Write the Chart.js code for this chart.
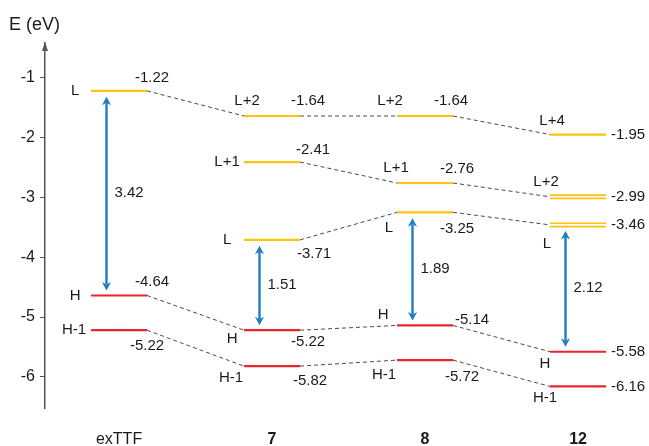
<!DOCTYPE html>
<html>
<head>
<meta charset="utf-8">
<script src="https://cdn.jsdelivr.net/npm/chart.js@4.4.1/dist/chart.umd.min.js"></script>
<style>
  html, body { margin: 0; padding: 0; background: #fff; }
  canvas { display: block; }
</style>
</head>
<body>
<canvas id="chart" width="649" height="446"></canvas>
<script>
// Compounds along the horizontal axis
const categories = ['exTTF', '7', '8', '12'];

// Frontier orbital energies (eV), top to bottom for each compound
const levelsExTTF = [-1.22, -4.64, -5.22];
const levels7 = [-1.64, -2.41, -3.71, -5.22, -5.82];
const levels8 = [-1.64, -2.76, -3.25, -5.14, -5.72];
const levels12 = [-1.95, -2.99, -3.46, -5.58, -6.16];

// Orbital names in the same order
const namesExTTF = ['L', 'H', 'H-1'];
const names7 = ['L+2', 'L+1', 'L', 'H', 'H-1'];
const names8 = ['L+2', 'L+1', 'L', 'H', 'H-1'];
const names12 = ['L+4', 'L+2', 'L', 'H', 'H-1'];

// Doubly degenerate levels of compound 12 (indices into levels12)
const degenerate12 = [1, 2];

// Correlation chains between compounds: [column, level index]
const chains = [
  [[0, 0], [1, 0], [2, 0], [3, 0]],
  [[1, 1], [2, 1], [3, 1]],
  [[1, 2], [2, 2], [3, 2]],
  [[0, 1], [1, 3], [2, 3], [3, 3]],
  [[0, 2], [1, 4], [2, 4], [3, 4]]
];

// HOMO-LUMO gap arrows: [LUMO index, HOMO index] for each compound
const gapPairs = [[0, 1], [2, 3], [2, 3], [2, 3]];

// Energy axis tick values
const yTicks = [-1, -2, -3, -4, -5, -6];

// ---------- layout & style ----------
const columns = [levelsExTTF, levels7, levels8, levels12];
const names = [namesExTTF, names7, names8, names12];

const HALF = 0.183;       // half width of a level bar (category units)
const ARROW_DX = -0.082;  // arrow offset from the bar centre
const YELLOW = '#FFC20E';
const RED = '#E8262B';
const BLUE = '#1F7DC2';
const TEXT = '#1a1a1a';
const AXIS = '#555555';
const FONT = '"Liberation Sans", Arial, Helvetica, sans-serif';

// label anchors: [bar end, dx px, dy px] (text centred there)
const nameOffsets = [
  [['L', -16, 0], ['L', -16, 0], ['L', -17, 0]],
  [['L', 3, -15], ['L', -17, 0], ['L', -17, 0], ['L', -12, 9], ['L', -13, 12]],
  [['L', -7, -15], ['L', -1, -15], ['L', -8, 16], ['L', -14, -11], ['L', -13, 15]],
  [['L', 2, -14], ['L', -4, -15], ['L', -3, 19], ['L', -5, 12], ['L', -5, 11]]
];
const valueOffsets = [
  [['R', 5, -13], ['R', 5, -14], ['R', 0, 16]],
  [['R', 8, -15], ['R', 13, -12], ['R', 14, 14], ['R', 8, 12], ['R', 10, 15]],
  [['R', -2, -15], ['R', 4, -14], ['R', 4, 17], ['R', 19, -6], ['R', 9, 17]],
  [['R', 22, 0], ['R', 22, 0], ['R', 22, 0], ['R', 22, 0], ['R', 22, 0]]
];

Chart.defaults.font.family = FONT;
Chart.defaults.color = TEXT;

// ---------- datasets ----------
const datasets = [];

// dashed correlation lines
chains.forEach(chain => {
  const pts = [];
  for (let k = 0; k < chain.length - 1; k++) {
    const [c0, i0] = chain[k];
    const [c1, i1] = chain[k + 1];
    if (pts.length) pts.push({ x: c0, y: null });
    pts.push({ x: c0 + HALF, y: columns[c0][i0] });
    pts.push({ x: c1 - HALF, y: columns[c1][i1] });
  }
  datasets.push({
    data: pts,
    borderColor: '#4a4a4a',
    borderWidth: 1,
    borderDash: [4, 3],
    pointRadius: 0,
    spanGaps: false,
    order: 3
  });
});

// energy level bars
columns.forEach((lv, c) => {
  lv.forEach((v, i) => {
    const occupied = names[c][i].startsWith('H');
    const deg = c === 3 && degenerate12.includes(i);
    const seg = [{ x: c - HALF, y: v }, { x: c + HALF, y: v }];
    datasets.push({
      data: seg,
      borderColor: occupied ? RED : YELLOW,
      borderWidth: deg ? 5 : 2.2,
      pointRadius: 0,
      order: 2
    });
    if (deg) {
      // thin white core splits the bar into a pair of lines
      datasets.push({
        data: seg.map(p => ({ ...p })),
        borderColor: '#ffffff',
        borderWidth: 1.6,
        pointRadius: 0,
        order: 1
      });
    }
  });
});

// ---------- drawing helpers ----------
function arrowHead(ctx, x, y, dir) {
  // dir = -1 points up, +1 points down; (x, y) is the tip
  const w = 4.6, len = 8.5, notch = 6;
  ctx.beginPath();
  ctx.moveTo(x, y);
  ctx.lineTo(x - w, y - dir * len);
  ctx.lineTo(x, y - dir * notch);
  ctx.lineTo(x + w, y - dir * len);
  ctx.closePath();
  ctx.fill();
}

const decorations = {
  id: 'decorations',
  beforeDraw(chart) {
    const ctx = chart.ctx;
    ctx.save();
    ctx.fillStyle = '#ffffff';
    ctx.fillRect(0, 0, chart.width, chart.height);
    ctx.restore();
  },
  afterDatasetsDraw(chart) {
    const ctx = chart.ctx;
    const xs = chart.scales.x;
    const ys = chart.scales.y;
    const area = chart.chartArea;
    ctx.save();

    // arrow tip on top of the energy axis
    ctx.fillStyle = AXIS;
    ctx.beginPath();
    ctx.moveTo(area.left, area.top - 1);
    ctx.lineTo(area.left - 3, area.top + 8);
    ctx.lineTo(area.left + 3, area.top + 8);
    ctx.closePath();
    ctx.fill();

    // axis title
    ctx.fillStyle = TEXT;
    ctx.font = '18px ' + FONT;
    ctx.textAlign = 'left';
    ctx.textBaseline = 'middle';
    ctx.fillText('E (eV)', 9, 25);

    // HOMO-LUMO gap arrows with their values
    gapPairs.forEach(([li, hi], c) => {
      const lumo = columns[c][li];
      const homo = columns[c][hi];
      const x = xs.getPixelForValue(c + ARROW_DX);
      const yTop = ys.getPixelForValue(lumo) + 6;
      const yBot = ys.getPixelForValue(homo) - 5;
      ctx.strokeStyle = BLUE;
      ctx.fillStyle = BLUE;
      ctx.lineWidth = 2.4;
      ctx.beginPath();
      ctx.moveTo(x, yTop + 6);
      ctx.lineTo(x, yBot - 6);
      ctx.stroke();
      arrowHead(ctx, x, yTop, -1);
      arrowHead(ctx, x, yBot, 1);

      ctx.fillStyle = TEXT;
      ctx.font = '15px ' + FONT;
      ctx.textAlign = 'left';
      ctx.textBaseline = 'middle';
      ctx.fillText((lumo - homo).toFixed(2), x + 8, (ys.getPixelForValue(lumo) + ys.getPixelForValue(homo)) / 2);
    });

    // orbital names and energies
    ctx.fillStyle = TEXT;
    ctx.font = '15px ' + FONT;
    ctx.textAlign = 'center';
    ctx.textBaseline = 'middle';
    columns.forEach((lv, c) => {
      const xl = xs.getPixelForValue(c - HALF);
      const xr = xs.getPixelForValue(c + HALF);
      lv.forEach((v, i) => {
        const y = ys.getPixelForValue(v);
        const [ne, ndx, ndy] = nameOffsets[c][i];
        const [ve, vdx, vdy] = valueOffsets[c][i];
        ctx.fillText(names[c][i], (ne === 'L' ? xl : xr) + ndx, y + ndy);
        ctx.fillText(v.toFixed(2), (ve === 'L' ? xl : xr) + vdx, y + vdy);
      });
    });
    ctx.restore();
  }
};

new Chart(document.getElementById('chart'), {
  type: 'line',
  data: { datasets },
  options: {
    responsive: false,
    animation: false,
    devicePixelRatio: 1,
    layout: { padding: { left: 0, top: 43, right: 9, bottom: 0 } },
    plugins: { legend: { display: false }, tooltip: { enabled: false } },
    elements: { line: { tension: 0, fill: false } },
    scales: {
      x: {
        type: 'linear',
        min: -0.484,
        max: 3.405,
        afterFit: s => { s.height = 38; },
        afterBuildTicks: s => { s.ticks = categories.map((_, i) => ({ value: i })); },
        grid: { display: false, drawTicks: false },
        border: { display: false },
        ticks: {
          padding: 22,
          color: TEXT,
          maxRotation: 0,
          autoSkip: false,
          callback: v => categories[v],
          font: ctx => ({ size: 16, weight: ctx.index === 0 ? 'normal' : 'bold' })
        }
      },
      y: {
        type: 'linear',
        min: -6.52,
        max: -0.42,
        afterFit: s => { s.width = 45; },
        afterBuildTicks: s => { s.ticks = yTicks.map(v => ({ value: v })); },
        grid: { drawOnChartArea: false, drawTicks: true, tickLength: 5, color: AXIS, lineWidth: 1 },
        border: { display: true, color: AXIS, width: 1.5 },
        ticks: { padding: 5, color: TEXT, font: { size: 16 }, callback: v => String(v) }
      }
    }
  },
  plugins: [decorations]
});
</script>
</body>
</html>
